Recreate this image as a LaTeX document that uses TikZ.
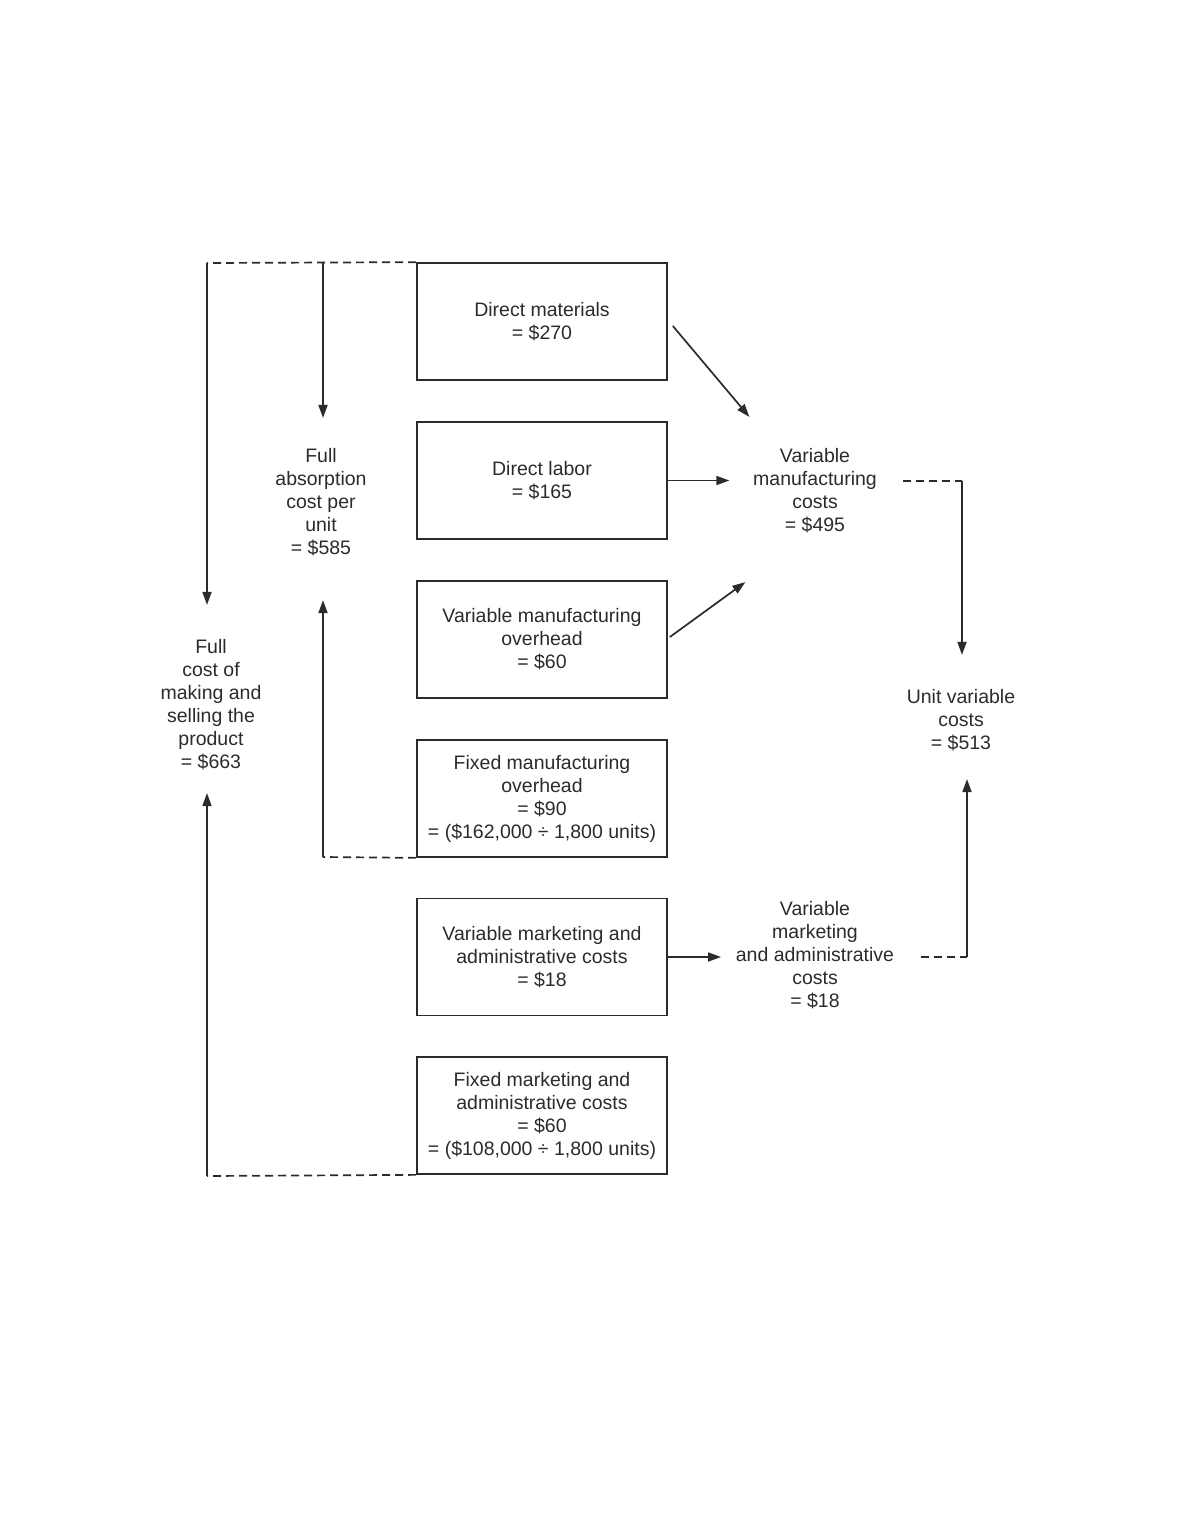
\documentclass[tikz,border=0pt]{standalone}
\usepackage{fontspec}
\setmainfont{Liberation Sans}
\usetikzlibrary{arrows.meta}
\definecolor{ink}{HTML}{2B2B2B}

\begin{document}
\begin{tikzpicture}[x=1pt,y=-1pt,color=ink,line width=1.7pt,
   >={Triangle[length=13pt,width=9pt]},
   every node/.style={font=\fontsize{19.5}{23}\selectfont,align=center},
   cost/.style={draw,minimum width=250pt,minimum height=117pt,inner sep=0pt},
   lbl/.style={inner sep=0pt},
   dashline/.style={dash pattern=on 8pt off 5pt},
   flow/.style={->,line width=1.7pt}]
   \useasboundingbox (0,0) rectangle (1180,1527);

   \node[cost] (b1) at (542,321.5) {Direct materials\\= \$270};
   \node[cost] (b2) at (542,480.5) {Direct labor\\= \$165};
   \node[cost] (b3) at (542,639.5) {Variable manufacturing\\overhead\\= \$60};
   \node[cost] (b4) at (542,798.5) {Fixed manufacturing\\overhead\\= \$90\\= (\$162,000 ÷ 1,800 units)};
   \node[cost] (b5) at (542,957) {Variable marketing and\\administrative costs\\= \$18};
   \node[cost] (b6) at (542,1115.5) {Fixed marketing and\\administrative costs\\= \$60\\= (\$108,000 ÷ 1,800 units)};

   \node[lbl] (fa) at (321,502) {Full\\absorption\\cost per\\unit\\= \$585};
   \node[lbl] (fc) at (211,705) {Full\\cost of\\making and\\selling the\\product\\= \$663};
   \node[lbl] (vm) at (815,490.5) {Variable\\manufacturing\\costs\\= \$495};
   \node[lbl] (uv) at (961,720) {Unit variable\\costs\\= \$513};
   \node[lbl] (vma) at (815,955.5) {Variable\\marketing\\and administrative\\costs\\= \$18};

   \coordinate (tl) at (207,263);
   \coordinate (ta) at (323,263);
   \coordinate (tb) at (323,857);
   \coordinate (tc) at (207,1176);
   \coordinate (tr) at (962,481);
   \coordinate (br) at (967,957);

   \draw[dashline] (b1.north west) -- (tl);
   \draw[dashline] (b4.south west) -- (tb);
   \draw[dashline] (b6.south west) -- (tc);
   \draw[dashline,shorten <=25pt] (vm.east |- tr) -- (tr);
   \draw[dashline,shorten <=26pt] (vma.east |- b5.east) -- (br);

   \path (tl) edge[flow,shorten >=34pt] (tl |- fc.north);
   \path (ta) edge[flow,shorten >=29.5pt] (ta |- fa.north);
   \path (tb) edge[flow,shorten >=43.5pt] (tb |- fa.south);
   \path (tc) edge[flow,shorten >=22pt] (tc |- fc.south);
   \path (tr) edge[flow,shorten >=33.5pt] (tr |- uv.north);
   \path (br) edge[flow,shorten >=27.5pt] (br |- uv.south);

   \path ([xshift=5pt,yshift=-4.5pt]b1.east) edge[flow] ([xshift=-3pt,yshift=30.5pt]vm.north west);
   \path (b2.east) edge[flow,shorten >=23pt] (b2.east -| vm.west);
   \path ([xshift=2pt,yshift=2.5pt]b3.east) edge[flow] ([xshift=-7pt,yshift=-48.5pt]vm.south west);
   \path (b5.east) edge[flow,shorten >=14pt] (b5.east -| vma.west);

\end{tikzpicture}
\end{document}
